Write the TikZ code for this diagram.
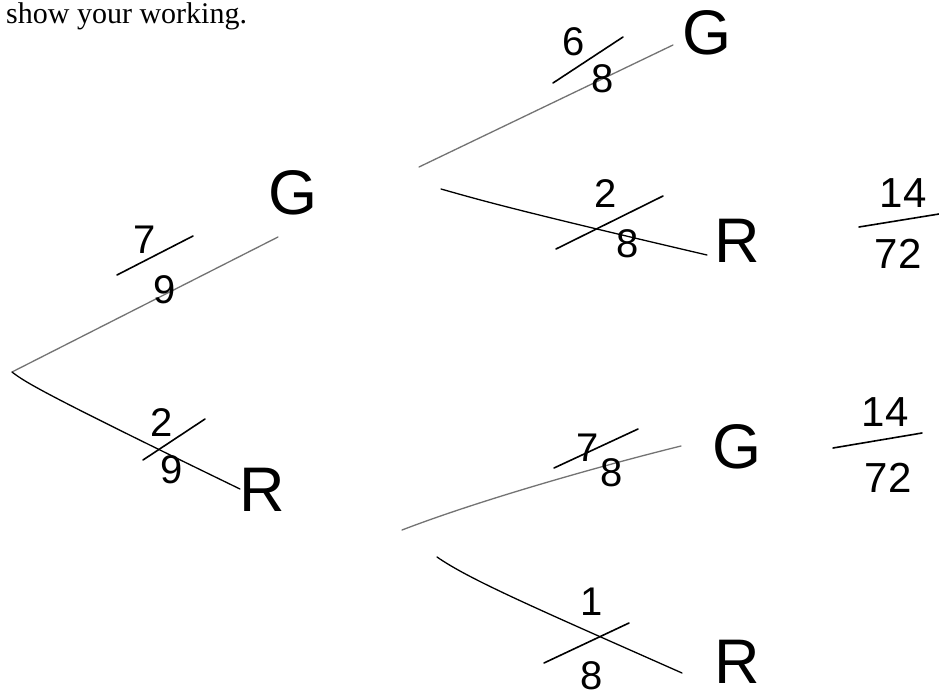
\documentclass[tikz,border=0pt]{standalone}
\usepackage{fontspec}
\setmainfont{Liberation Serif}
\newfontfamily\hand{Liberation Sans}
\tikzset{
  branchG/.style={draw=black!55, line width=1.3pt, line cap=round},
  branchR/.style={draw=black, line width=1.3pt, line cap=round},
  slashln/.style={draw=black, line width=1.6pt, line cap=round},
  fracln/.style={draw=black, line width=1.6pt, line cap=round},
  lab/.style={inner sep=0pt, font=\hand\fontsize{63}{63}\selectfont},
  num/.style={inner sep=0pt, font=\hand\fontsize{40}{40}\selectfont},
  big/.style={inner sep=0pt, font=\hand\fontsize{42}{42}\selectfont},
}
\begin{document}
\begin{tikzpicture}[x=1pt,y=-1pt]
\useasboundingbox[fill=white] (0,0) rectangle (939,699);
\node[anchor=base west, inner sep=0pt, font=\fontsize{30}{30}\selectfont] (title) at (6,23) {show your working.};

% first level
\coordinate (root) at (12,372);
\coordinate (g1) at (278,237);
\coordinate (r1) at (240,489);
\draw[branchG] (root) -- (g1);
\draw[branchR] (root) .. controls (25,382) and (40,392) .. (r1);
\node[num] (n79) at (145,240) {7};
\node[num] (d79) at (165,290) {9};
\draw[slashln] (117,275) -- (193,236);
\node[lab] (G1) at (293,193) {G};
\node[num] (n29) at (162,423) {2};
\node[num] (d29) at (172,470) {9};
\draw[slashln] (143,460) -- (205,419);
\node[lab] (R1) at (262,490) {R};

% second level, upper
\coordinate (s2a) at (419,167);
\coordinate (g2a) at (673,45);
\draw[branchG] (s2a) -- (g2a);
\node[num] (n68) at (574,42) {6};
\node[num] (d68) at (603,79) {8};
\draw[slashln] (553,83) -- (623,37);
\node[lab] (G2) at (707,33) {G};
\coordinate (s2b) at (441,189);
\coordinate (r2b) at (707,255);
\draw[branchR] (s2b) .. controls (480,200) and (510,209) .. (r2b);
\node[num] (n28) at (606,194) {2};
\node[num] (d28) at (628,244) {8};
\draw[slashln] (556,249) -- (663,196);
\node[lab] (R2) at (737,241) {R};
\node[big] (p1n) at (903,193) {14};
\draw[fracln] (859,227) -- (939,214);
\node[big] (p1d) at (898,254) {72};

% second level, lower
\coordinate (s3a) at (402,530);
\coordinate (g3a) at (681,446);
\draw[branchG] (s3a) .. controls (480,500) and (600,466) .. (g3a);
\node[num] (n78) at (588,448) {7};
\node[num] (d78) at (612,473) {8};
\draw[slashln] (554,468) -- (638,429);
\node[lab] (G3) at (737,447) {G};
\coordinate (s3b) at (437,557);
\coordinate (r3b) at (682,673);
\draw[branchR] (s3b) .. controls (470,580) and (540,610) .. (r3b);
\node[num] (n18) at (592,602) {1};
\node[num] (d18) at (592,676) {8};
\draw[slashln] (544,663) -- (629,623);
\node[lab] (R3) at (737,662) {R};
\node[big] (p2n) at (885,412) {14};
\draw[fracln] (833,448) -- (922,433);
\node[big] (p2d) at (888,478) {72};
\end{tikzpicture}
\end{document}
